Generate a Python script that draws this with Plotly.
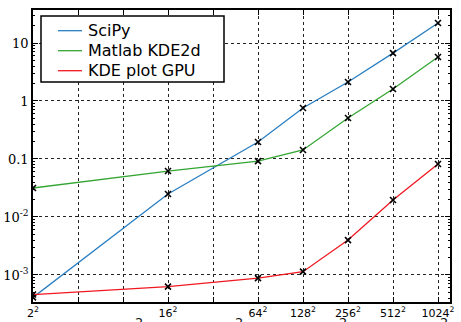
import math
import plotly.graph_objects as go

# Data: image side length (problem size = side^2) vs time
sides = [2, 16, 64, 128, 256, 512, 1024]
scipy_t = [4.1e-4, 0.0249, 0.196, 0.757, 2.13, 6.7, 22.1]
matlab_t = [0.0316, 0.062, 0.092, 0.143, 0.509, 1.61, 5.74]
gpu_t = [4.6e-4, 6.3e-4, 8.8e-4, 1.14e-3, 0.0040, 0.0196, 0.082]

series_names = ["SciPy", "Matlab KDE2d", "KDE plot GPU"]
series_colors = ["#2a7fc2", "#33a532", "#f01820"]

grid_sides = [2, 4, 8, 16, 32, 64, 128, 256, 512, 1024]
grid_labels = ["2<sup>2</sup>", "", "", "16<sup>2</sup>", "", "64<sup>2</sup>",
               "128<sup>2</sup>", "256<sup>2</sup>", "512<sup>2</sup>", "1024<sup>2</sup>"]
y_tickvals = [1e-3, 1e-2, 0.1, 1, 10]
y_ticktext = ["10<sup>-3</sup>", "10<sup>-2</sup>", "0.1", "1", "10"]
y_minor = [m * 10.0 ** e for e in range(-4, 2) for m in range(2, 10)]

# partially visible superscripts along the bottom edge
edge_sup_x = [10.24, 47.8, 237, 1123]

W, H = 461, 322
L, R, T, B = 33, 11, 10, 20
pw, ph = W - L - R, H - T - B


def px(xp):
    return (xp - L) / pw


def py(yp):
    return (H - B - yp) / ph


fig = go.Figure()
for name, ys, col in zip(series_names, [scipy_t, matlab_t, gpu_t], series_colors):
    fig.add_trace(go.Scatter(
        x=sides, y=ys, mode="lines+markers", name=name, showlegend=False,
        line=dict(color=col, width=1.3),
        marker=dict(symbol="x-thin", size=6, color="black",
                    line=dict(color="black", width=1.6)),
    ))

# manual legend (matplotlib style)
fig.add_shape(type="rect", xref="paper", yref="paper",
              x0=px(41), x1=px(224), y0=py(82), y1=py(16),
              line=dict(color="black", width=1.5), fillcolor="white", layer="above")
for i, (name, col) in enumerate(zip(series_names, series_colors)):
    yy = py(30.7 + 20 * i)
    fig.add_shape(type="line", xref="paper", yref="paper",
                  x0=px(58), x1=px(82), y0=yy, y1=yy,
                  line=dict(color=col, width=1.3), layer="above")
    fig.add_annotation(x=px(86), y=yy, xref="paper", yref="paper",
                       xanchor="left", yanchor="middle", text=name, showarrow=False,
                       font=dict(family="DejaVu Sans", size=16, color="black"))

for xs in edge_sup_x:
    fig.add_annotation(x=math.log10(xs), xref="x", y=py(313.5), yref="paper",
                       yanchor="top", text="2", showarrow=False, borderpad=0,
                       font=dict(family="DejaVu Sans", size=13, color="#111"))

axis_font = dict(family="DejaVu Sans", size=11, color="black")
fig.update_layout(
    width=W, height=H,
    margin=dict(l=L, r=R, t=T, b=B),
    paper_bgcolor="white", plot_bgcolor="white",
    showlegend=False,
    xaxis=dict(type="log", range=[0.30103, 3.0906], automargin=False,
               tickmode="array", tickvals=grid_sides, ticktext=grid_labels,
               ticks="inside", ticklen=5, tickcolor="black", tickwidth=1,
               showline=True, linecolor="black", linewidth=1.6, mirror="allticks",
               showgrid=True, gridcolor="#222", gridwidth=1, griddash="dot",
               zeroline=False, tickfont=axis_font),
    yaxis=dict(type="log", range=[-3.466, 1.569], automargin=False,
               tickmode="array", tickvals=y_tickvals, ticktext=y_ticktext,
               ticks="inside", ticklen=5, tickcolor="black", tickwidth=1,
               showline=True, linecolor="black", linewidth=1.6, mirror="allticks",
               showgrid=True, gridcolor="#222", gridwidth=1, griddash="dot",
               zeroline=False,
               tickfont=dict(family="DejaVu Serif", size=13, color="black"),
               minor=dict(tickmode="array", tickvals=y_minor,
                          ticks="inside", ticklen=2.5, tickcolor="black",
                          tickwidth=1, showgrid=False)),
)

fig.write_html("out.html", config={"displayModeBar": False},
               post_script="document.body.style.margin='0';")
